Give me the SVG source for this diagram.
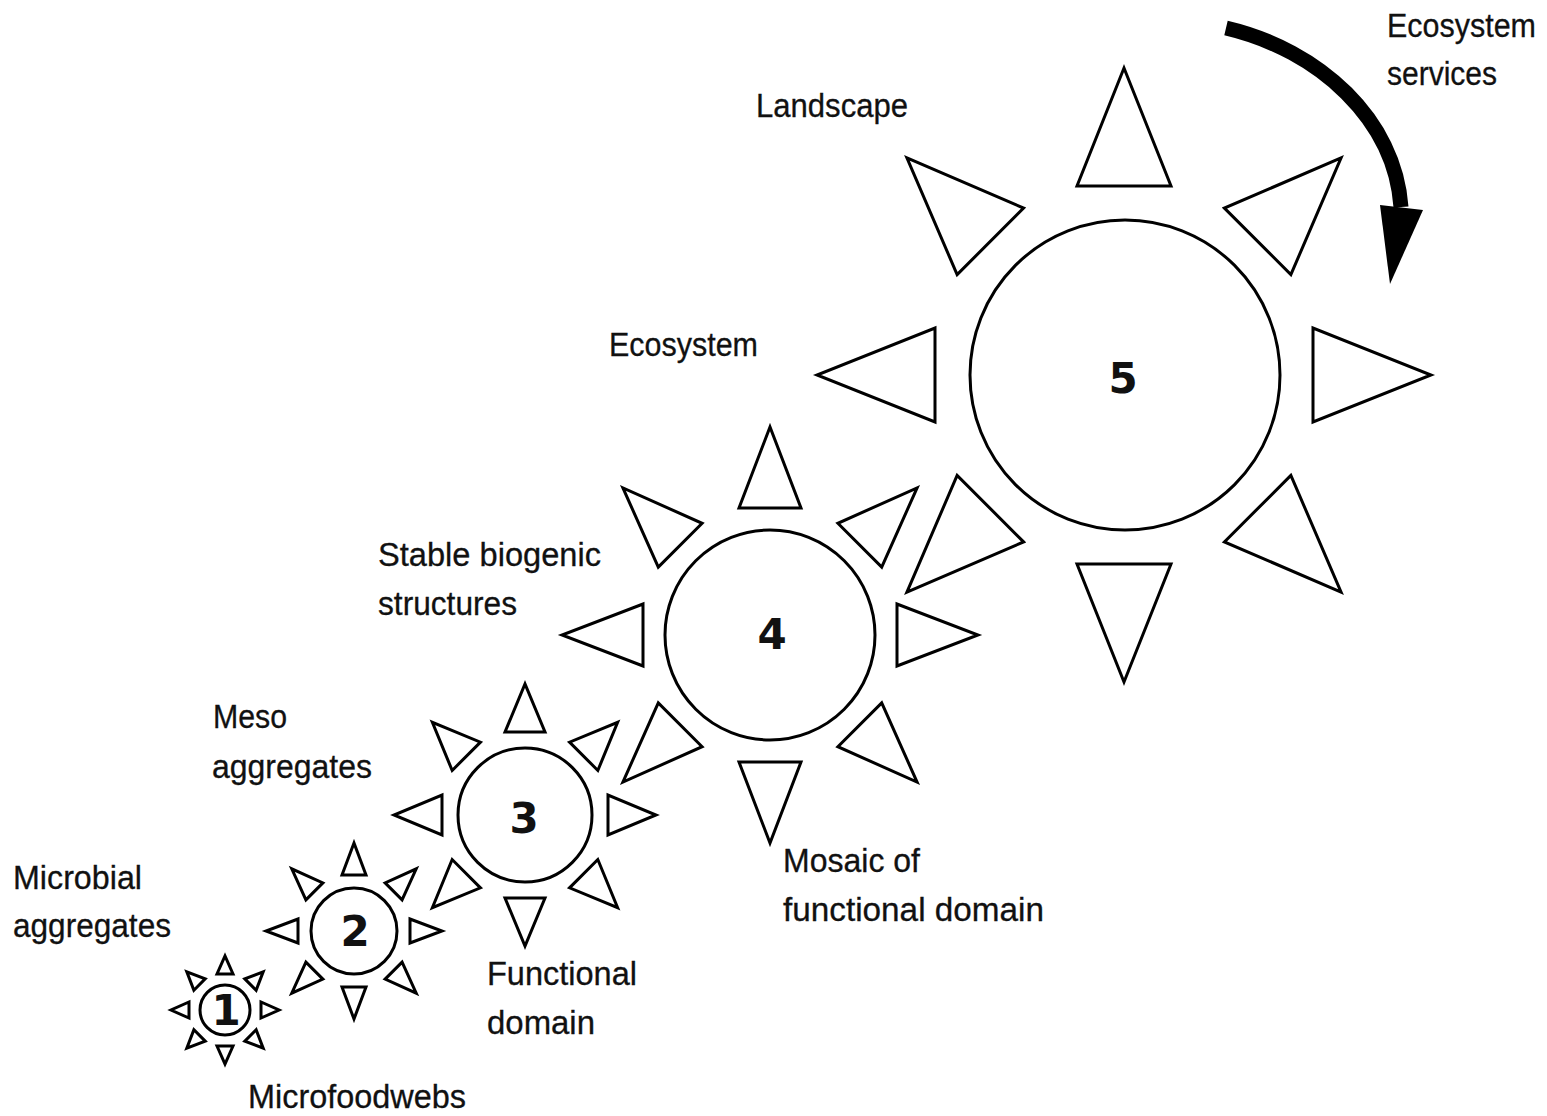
<svg xmlns="http://www.w3.org/2000/svg" xmlns:xlink="http://www.w3.org/1999/xlink" width="1547" height="1116" viewBox="0 0 1547 1116">
<style>
.sh{fill:#fff;stroke:#000;stroke-width:3;stroke-linejoin:miter}
.lbl{font-family:"Liberation Sans",Arial,sans-serif;font-size:33px;fill:#111;stroke:#111;stroke-width:0.3}
.num{font-family:"DejaVu Sans",sans-serif;font-weight:bold;font-size:42px;fill:#111;text-anchor:middle}
</style>
<defs>
<polygon id="t1" class="sh" points="217,974 233,974 225,956"/>
<polygon id="t2" class="sh" points="342,875 366,875 354,843"/>
<polygon id="t3" class="sh" points="505,732 545,732 525,684"/>
<polygon id="t4" class="sh" points="739,508 801,508 770,427"/>
<polygon id="t5" class="sh" points="1077,186 1171,186 1124,68"/>
</defs>
<rect width="1547" height="1116" fill="#fff"/>

<g id="sun5">
<circle class="sh" cx="1125" cy="375" r="155"/>
<use xlink:href="#t5"/>
<use xlink:href="#t5" transform="rotate(45 1124 375)"/>
<use xlink:href="#t5" transform="rotate(90 1124 375)"/>
<use xlink:href="#t5" transform="rotate(135 1124 375)"/>
<use xlink:href="#t5" transform="rotate(180 1124 375)"/>
<use xlink:href="#t5" transform="rotate(225 1124 375)"/>
<use xlink:href="#t5" transform="rotate(270 1124 375)"/>
<use xlink:href="#t5" transform="rotate(315 1124 375)"/>
<text class="num" x="1123" y="393">5</text>
</g>

<g id="sun4">
<circle class="sh" cx="770" cy="635" r="105"/>
<use xlink:href="#t4"/>
<use xlink:href="#t4" transform="rotate(45 770 635)"/>
<use xlink:href="#t4" transform="rotate(90 770 635)"/>
<use xlink:href="#t4" transform="rotate(135 770 635)"/>
<use xlink:href="#t4" transform="rotate(180 770 635)"/>
<use xlink:href="#t4" transform="rotate(225 770 635)"/>
<use xlink:href="#t4" transform="rotate(270 770 635)"/>
<use xlink:href="#t4" transform="rotate(315 770 635)"/>
<text class="num" x="772" y="649">4</text>
</g>

<g id="sun3">
<circle class="sh" cx="525" cy="815" r="67"/>
<use xlink:href="#t3"/>
<use xlink:href="#t3" transform="rotate(45 525 815)"/>
<use xlink:href="#t3" transform="rotate(90 525 815)"/>
<use xlink:href="#t3" transform="rotate(135 525 815)"/>
<use xlink:href="#t3" transform="rotate(180 525 815)"/>
<use xlink:href="#t3" transform="rotate(225 525 815)"/>
<use xlink:href="#t3" transform="rotate(270 525 815)"/>
<use xlink:href="#t3" transform="rotate(315 525 815)"/>
<text class="num" x="524" y="833">3</text>
</g>

<g id="sun2">
<circle class="sh" cx="354" cy="931" r="43"/>
<use xlink:href="#t2"/>
<use xlink:href="#t2" transform="rotate(45 354 931)"/>
<use xlink:href="#t2" transform="rotate(90 354 931)"/>
<use xlink:href="#t2" transform="rotate(135 354 931)"/>
<use xlink:href="#t2" transform="rotate(180 354 931)"/>
<use xlink:href="#t2" transform="rotate(225 354 931)"/>
<use xlink:href="#t2" transform="rotate(270 354 931)"/>
<use xlink:href="#t2" transform="rotate(315 354 931)"/>
<text class="num" x="355" y="946">2</text>
</g>

<g id="sun1">
<circle class="sh" cx="225" cy="1010" r="25"/>
<use xlink:href="#t1"/>
<use xlink:href="#t1" transform="rotate(45 225 1010)"/>
<use xlink:href="#t1" transform="rotate(90 225 1010)"/>
<use xlink:href="#t1" transform="rotate(135 225 1010)"/>
<use xlink:href="#t1" transform="rotate(180 225 1010)"/>
<use xlink:href="#t1" transform="rotate(225 225 1010)"/>
<use xlink:href="#t1" transform="rotate(270 225 1010)"/>
<use xlink:href="#t1" transform="rotate(315 225 1010)"/>
<text class="num" x="226" y="1025">1</text>
</g>

<g id="connectors">
<path d="M1226,28 C1320,50 1395,120 1401,207" fill="none" stroke="#000" stroke-width="15"/>
<polygon points="1380,205 1423,210 1390,284" fill="#000"/>
</g>

<g id="labels">
<text class="lbl" x="1387" y="37" textLength="149" lengthAdjust="spacingAndGlyphs">Ecosystem</text>
<text class="lbl" x="1387" y="85" textLength="110" lengthAdjust="spacingAndGlyphs">services</text>
<text class="lbl" x="756" y="117" textLength="152" lengthAdjust="spacingAndGlyphs">Landscape</text>
<text class="lbl" x="609" y="356" textLength="149" lengthAdjust="spacingAndGlyphs">Ecosystem</text>
<text class="lbl" x="378" y="566" textLength="223" lengthAdjust="spacingAndGlyphs">Stable biogenic</text>
<text class="lbl" x="378" y="615" textLength="139" lengthAdjust="spacingAndGlyphs">structures</text>
<text class="lbl" x="213" y="728" textLength="74" lengthAdjust="spacingAndGlyphs">Meso</text>
<text class="lbl" x="212" y="778" textLength="160" lengthAdjust="spacingAndGlyphs">aggregates</text>
<text class="lbl" x="13" y="889" textLength="129" lengthAdjust="spacingAndGlyphs">Microbial</text>
<text class="lbl" x="13" y="937" textLength="158" lengthAdjust="spacingAndGlyphs">aggregates</text>
<text class="lbl" x="487" y="985" textLength="150" lengthAdjust="spacingAndGlyphs">Functional</text>
<text class="lbl" x="487" y="1034" textLength="108" lengthAdjust="spacingAndGlyphs">domain</text>
<text class="lbl" x="248" y="1108" textLength="218" lengthAdjust="spacingAndGlyphs">Microfoodwebs</text>
<text class="lbl" x="783" y="872" textLength="137" lengthAdjust="spacingAndGlyphs">Mosaic of</text>
<text class="lbl" x="783" y="921" textLength="261" lengthAdjust="spacingAndGlyphs">functional domain</text>
</g>
</svg>
